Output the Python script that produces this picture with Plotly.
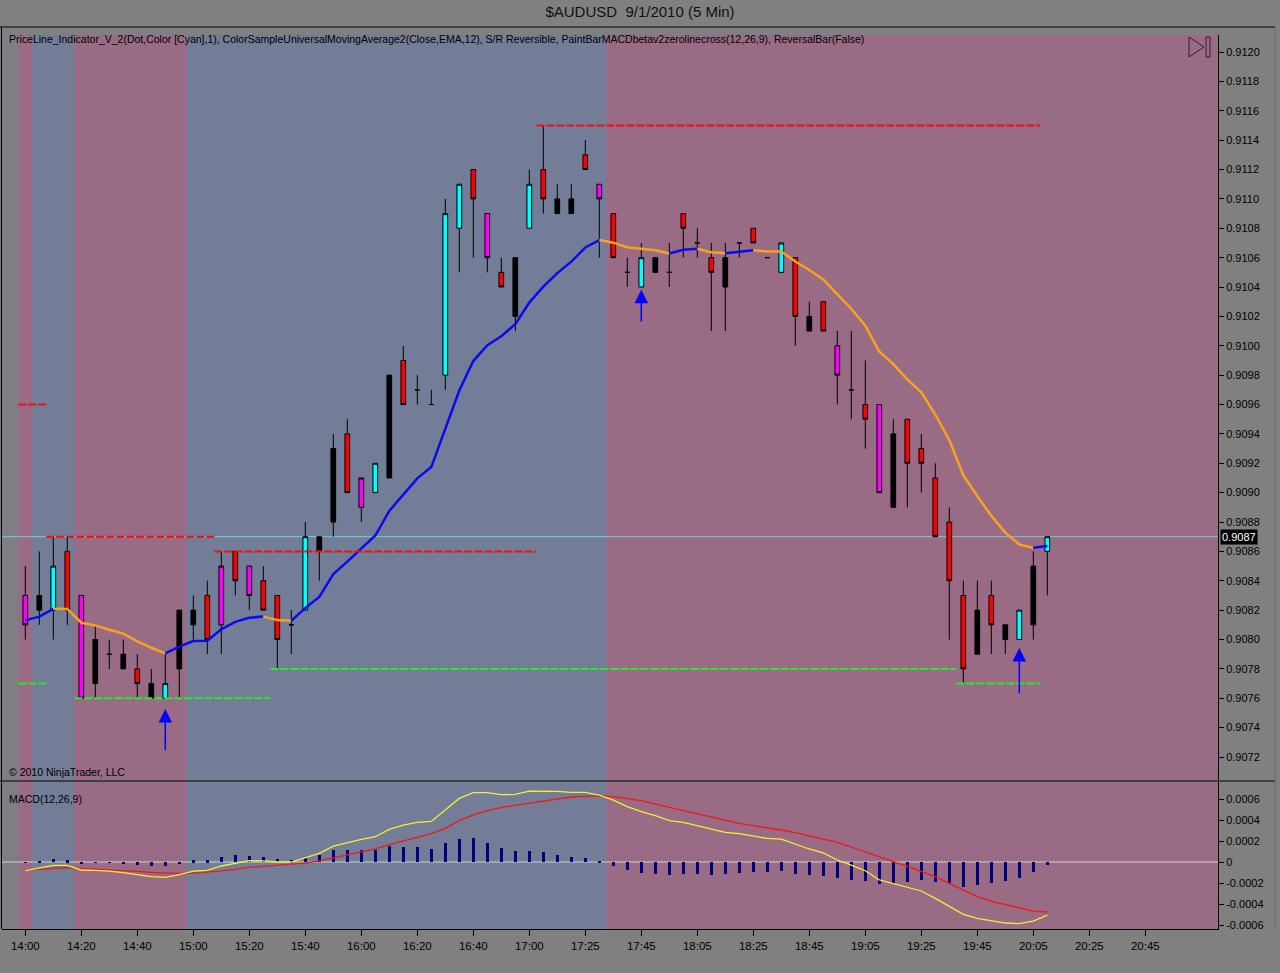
import plotly.graph_objects as go

# ---------------- texts ----------------
TITLE = "$AUDUSD  9/1/2010 (5 Min)"
INDICATORS = ("PriceLine_Indicator_V_2(Dot,Color [Cyan],1), ColorSampleUniversalMovingAverage2(Close,EMA,12), "
              "S/R Reversible, PaintBarMACDbetav2zerolinecross(12,26,9), ReversalBar(False)")
COPYRIGHT = "© 2010 NinjaTrader, LLC"
MACD_LABEL = "MACD(12,26,9)"

# ---------------- axis labels ----------------
TIME_TICKS = ["14:00", "14:20", "14:40", "15:00", "15:20", "15:40", "16:00", "16:20", "16:40", "17:00",
              "17:25", "17:45", "18:05", "18:25", "18:45", "19:05", "19:25", "19:45", "20:05", "20:25", "20:45"]
BARS_PER_TICK = 4
PRICE_TICKS = [0.9120, 0.9118, 0.9116, 0.9114, 0.9112, 0.9110, 0.9108, 0.9106, 0.9104, 0.9102, 0.9100,
               0.9098, 0.9096, 0.9094, 0.9092, 0.9090, 0.9088, 0.9086, 0.9084, 0.9082, 0.9080, 0.9078,
               0.9076, 0.9074, 0.9072]
MACD_TICKS = [0.0006, 0.0004, 0.0002, 0.0, -0.0002, -0.0004, -0.0006]
MACD_TICK_TEXT = ["0.0006", "0.0004", "0.0002", "0", "-0.0002", "-0.0004", "-0.0006"]

# ---------------- price bars (5 min) ----------------
OPEN = [0.9083, 0.9082, 0.9082, 0.9086, 0.9083, 0.9077, 0.9079, 0.9078, 0.9078, 0.9076,
        0.9076, 0.9078, 0.9081, 0.9083, 0.9081, 0.9086, 0.9085, 0.9084, 0.9083, 0.9081,
        0.9082, 0.9086, 0.9088, 0.9094, 0.9089, 0.9090, 0.9091, 0.9099, 0.9097, 0.9096,
        0.9098, 0.9108, 0.9112, 0.9109, 0.9105, 0.9102, 0.9108, 0.9112, 0.9109, 0.9109,
        0.9113, 0.9111, 0.9109, 0.9105, 0.9104, 0.9105, 0.9105, 0.9109, 0.9107, 0.9106,
        0.9104, 0.9107, 0.9108, 0.9106, 0.9105, 0.9106, 0.9101, 0.9103, 0.9100, 0.9097,
        0.9096, 0.9096, 0.9089, 0.9095, 0.9093, 0.9091, 0.9088, 0.9083, 0.9079, 0.9083,
        0.9080, 0.9080, 0.9081, 0.9086]
HIGH = [0.9085, 0.9086, 0.9087, 0.9087, 0.9083, 0.9081, 0.9080, 0.9080, 0.9079, 0.9078,
        0.9079, 0.9082, 0.9083, 0.9084, 0.9086, 0.9086, 0.9085, 0.9085, 0.9083, 0.9082,
        0.9088, 0.9087, 0.9094, 0.9095, 0.9091, 0.9092, 0.9098, 0.9100, 0.9098, 0.9097,
        0.9110, 0.9111, 0.9112, 0.9109, 0.9106, 0.9106, 0.9112, 0.9115, 0.9111, 0.9111,
        0.9114, 0.9111, 0.9109, 0.9106, 0.9107, 0.9106, 0.9107, 0.9109, 0.9108, 0.9107,
        0.9107, 0.9107, 0.9108, 0.9106, 0.9107, 0.9106, 0.9103, 0.9103, 0.9101, 0.9101,
        0.9099, 0.9096, 0.9095, 0.9095, 0.9094, 0.9092, 0.9089, 0.9084, 0.9084, 0.9084,
        0.9081, 0.9082, 0.9086, 0.9087]
LOW = [0.9080, 0.9081, 0.9080, 0.9081, 0.9076, 0.9076, 0.9078, 0.9078, 0.9076, 0.9076,
       0.9076, 0.9076, 0.9080, 0.9079, 0.9079, 0.9083, 0.9082, 0.9082, 0.9078, 0.9079,
       0.9082, 0.9084, 0.9087, 0.9090, 0.9088, 0.9090, 0.9091, 0.9096, 0.9096, 0.9096,
       0.9097, 0.9105, 0.9106, 0.9105, 0.9104, 0.9101, 0.9108, 0.9109, 0.9109, 0.9109,
       0.9112, 0.9106, 0.9106, 0.9104, 0.9104, 0.9105, 0.9104, 0.9106, 0.9106, 0.9101,
       0.9101, 0.9106, 0.9107, 0.9106, 0.9105, 0.9100, 0.9101, 0.9101, 0.9096, 0.9095,
       0.9093, 0.9090, 0.9089, 0.9089, 0.9090, 0.9087, 0.9080, 0.9077, 0.9079, 0.9079,
       0.9079, 0.9080, 0.9080, 0.9083]
CLOSE = [0.9081, 0.9083, 0.9085, 0.9082, 0.9076, 0.9080, 0.9079, 0.9079, 0.9077, 0.9077,
         0.9077, 0.9082, 0.9082, 0.9080, 0.9085, 0.9084, 0.9083, 0.9082, 0.9080, 0.9081,
         0.9087, 0.9087, 0.9093, 0.9090, 0.9091, 0.9092, 0.9098, 0.9096, 0.9097, 0.9096,
         0.9109, 0.9111, 0.9110, 0.9106, 0.9104, 0.9106, 0.9111, 0.9110, 0.9110, 0.9110,
         0.9112, 0.9110, 0.9106, 0.9105, 0.9106, 0.9106, 0.9105, 0.9108, 0.9107, 0.9105,
         0.9106, 0.9107, 0.9107, 0.9106, 0.9107, 0.9102, 0.9102, 0.9101, 0.9098, 0.9097,
         0.9095, 0.9090, 0.9094, 0.9092, 0.9092, 0.9087, 0.9084, 0.9078, 0.9082, 0.9081,
         0.9081, 0.9082, 0.9085, 0.9087]
# PaintBar state per bar: M=magenta, K=black, C=cyan, R=red
PAINT = ["M", "K", "C", "R", "M", "K", "K", "K", "R", "K",
         "C", "K", "K", "R", "M", "R", "M", "R", "R", "K",
         "C", "K", "K", "R", "M", "C", "K", "R", "K", "K",
         "C", "C", "R", "M", "R", "K", "C", "R", "K", "K",
         "R", "M", "R", "K", "C", "K", "K", "R", "K", "R",
         "K", "K", "R", "K", "C", "R", "K", "R", "M", "K",
         "R", "M", "K", "R", "R", "R", "R", "R", "K", "R",
         "K", "C", "K", "C"]

# EMA(12) of close as plotted
EMA12 = [0.908130, 0.908156, 0.908209, 0.908208, 0.908114, 0.908096, 0.908066, 0.908040, 0.907988, 0.907944,
         0.907906, 0.907951, 0.907989, 0.907991, 0.908069, 0.908120, 0.908148, 0.908156, 0.908132, 0.908127,
         0.908215, 0.908290, 0.908445, 0.908530, 0.908618, 0.908708, 0.908876, 0.908987, 0.909097, 0.909174,
         0.909440, 0.909695, 0.909896, 0.910004, 0.910065, 0.910147, 0.910294, 0.910403, 0.910495, 0.910573,
         0.910669, 0.910720, 0.910702, 0.910671, 0.910660, 0.910651, 0.910628, 0.910654, 0.910661, 0.910636,
         0.910630, 0.910641, 0.910650, 0.910642, 0.910642, 0.910574, 0.910516, 0.910452, 0.910352, 0.910252,
         0.910136, 0.909961, 0.909875, 0.909771, 0.909683, 0.909532, 0.909358, 0.909118, 0.908977, 0.908842,
         0.908728, 0.908647, 0.908624, 0.908636]

# S/R Reversible levels: first bar, last bar, level
RES_FIRST = [0, 2, 14, 37]
RES_LAST = [1, 13, 36, 72]
RES_LEVEL = [0.9096, 0.9087, 0.9086, 0.9115]
SUP_FIRST = [0, 4, 18, 67]
SUP_LAST = [1, 17, 66, 72]
SUP_LEVEL = [0.9077, 0.9076, 0.9078, 0.9077]

# Reversal arrows: bar, tip price, tail price
ARROW_BAR = [10, 44, 71]
ARROW_TIP = [0.907527, 0.910382, 0.907942]
ARROW_TAIL = [0.907236, 0.910155, 0.907624]

# MACD(12,26,9)
MACD = [-0.000083, -0.000060, -0.000032, -0.000032, -0.000076, -0.000079, -0.000086, -0.000102, -0.000121, -0.000140,
        -0.000146, -0.000121, -0.000086, -0.000079, -0.000038, -0.000010, 0.000013, 0.000010, 0.000000, 0.000000,
        0.000044, 0.000083, 0.000152, 0.000187, 0.000216, 0.000241, 0.000311, 0.000352, 0.000378, 0.000387,
        0.000495, 0.000606, 0.000660, 0.000660, 0.000641, 0.000644, 0.000676, 0.000676, 0.000673, 0.000663,
        0.000663, 0.000638, 0.000590, 0.000527, 0.000479, 0.000441, 0.000394, 0.000378, 0.000346, 0.000311,
        0.000283, 0.000270, 0.000251, 0.000225, 0.000219, 0.000171, 0.000124, 0.000086, 0.000019, -0.000029,
        -0.000083, -0.000171, -0.000206, -0.000241, -0.000276, -0.000346, -0.000419, -0.000498, -0.000537, -0.000562,
        -0.000581, -0.000587, -0.000562, -0.000505]
SIGNAL = [-0.000076, -0.000067, -0.000060, -0.000054, -0.000060, -0.000066, -0.000071, -0.000080, -0.000089, -0.000098,
          -0.000106, -0.000109, -0.000105, -0.000098, -0.000084, -0.000070, -0.000051, -0.000041, -0.000032, -0.000022,
          -0.000010, 0.000010, 0.000038, 0.000070, 0.000095, 0.000124, 0.000165, 0.000200, 0.000235, 0.000270,
          0.000321, 0.000394, 0.000448, 0.000489, 0.000521, 0.000540, 0.000559, 0.000584, 0.000603, 0.000619,
          0.000625, 0.000629, 0.000622, 0.000606, 0.000584, 0.000552, 0.000521, 0.000489, 0.000457, 0.000429,
          0.000397, 0.000368, 0.000346, 0.000327, 0.000305, 0.000279, 0.000248, 0.000222, 0.000187, 0.000143,
          0.000095, 0.000044, 0.000003, -0.000041, -0.000089, -0.000140, -0.000203, -0.000267, -0.000330, -0.000375,
          -0.000406, -0.000438, -0.000467, -0.000476]
HIST = [-0.000007, 0.000007, 0.000029, 0.000019, -0.000013, -0.000006, -0.000006, -0.000013, -0.000030, -0.000038,
        -0.000038, -0.000010, 0.000019, 0.000019, 0.000048, 0.000067, 0.000057, 0.000048, 0.000025, 0.000019,
        0.000038, 0.000067, 0.000114, 0.000114, 0.000114, 0.000114, 0.000152, 0.000140, 0.000140, 0.000124,
        0.000181, 0.000219, 0.000229, 0.000184, 0.000133, 0.000108, 0.000108, 0.000092, 0.000070, 0.000048,
        0.000038, 0.000013, -0.000038, -0.000076, -0.000102, -0.000117, -0.000124, -0.000117, -0.000117, -0.000127,
        -0.000117, -0.000102, -0.000092, -0.000095, -0.000083, -0.000114, -0.000124, -0.000133, -0.000152, -0.000168,
        -0.000178, -0.000210, -0.000200, -0.000187, -0.000168, -0.000187, -0.000197, -0.000235, -0.000219, -0.000200,
        -0.000178, -0.000152, -0.000095, -0.000029]

# ---------------- styles ----------------
FONT = "Liberation Sans, Arial, sans-serif"
PAINT_COLORS = {"M": "#ff00ff", "K": "#000000", "C": "#00ffff", "R": "#ff0000"}
BAND_POS = "#737d97"
BAND_NEG = "#9a6b85"
PAPER = "#808080"
EMA_UP = "#0a0af0"
EMA_DOWN = "#f7a21c"
W, H = 1280, 973
ML, MR, MT, MB = 2, 62, 35, 44
PLOT_W = W - ML - MR
PLOT_H = H - MT - MB
PRICE_DOMAIN = [(929 - 780) / PLOT_H, 1.0]
MACD_DOMAIN = [0.0, (929 - 782) / PLOT_H]
BAR_PX = 14.0
FIRST_BAR_PX = 25.3
X_RANGE = [(ML - FIRST_BAR_PX) / BAR_PX, (W - MR - FIRST_BAR_PX) / BAR_PX]
PRICE_RANGE = [0.9070434, 0.912116]
MACD_RANGE = [-0.000638, 0.000762]

n = len(CLOSE)
xs = list(range(n))

fig = go.Figure()

# candles, one trace per paint colour
for code, col in PAINT_COLORS.items():
    idx = [i for i in xs if PAINT[i] == code]
    style = dict(fillcolor=col, line=dict(color="#000000", width=1))
    fig.add_trace(go.Candlestick(
        x=idx, open=[OPEN[i] for i in idx], high=[HIGH[i] for i in idx],
        low=[LOW[i] for i in idx], close=[CLOSE[i] for i in idx],
        increasing=style, decreasing=style, whiskerwidth=0,
        xaxis="x", yaxis="y", showlegend=False, hoverinfo="skip"))

# EMA coloured by slope (rising = blue, otherwise orange)
seg_col = [EMA_UP if EMA12[i] > EMA12[i - 1] else EMA_DOWN for i in range(1, n)]
start = 0
for i in range(1, n):
    if i == n - 1 or seg_col[i] != seg_col[i - 1]:
        end = i
        fig.add_trace(go.Scatter(x=xs[start:end + 1], y=EMA12[start:end + 1], mode="lines",
                                 line=dict(color=seg_col[i - 1], width=2.5),
                                 xaxis="x", yaxis="y", showlegend=False, hoverinfo="skip"))
        start = end

# S/R segments
for first, last, lvl in zip(RES_FIRST, RES_LAST, RES_LEVEL):
    fig.add_trace(go.Scatter(x=[first - 0.5, last + 0.5], y=[lvl, lvl], mode="lines",
                             line=dict(color="#ee1111", width=2, dash="8px,2px"),
                             xaxis="x", yaxis="y", showlegend=False, hoverinfo="skip"))
for first, last, lvl in zip(SUP_FIRST, SUP_LAST, SUP_LEVEL):
    fig.add_trace(go.Scatter(x=[first - 0.5, last + 0.5], y=[lvl, lvl], mode="lines",
                             line=dict(color="#22ee22", width=2, dash="8px,2px"),
                             xaxis="x", yaxis="y", showlegend=False, hoverinfo="skip"))

# MACD panel
fig.add_trace(go.Bar(x=xs, y=HIST, width=0.25, marker=dict(color="#00007f", line=dict(width=0)),
                     xaxis="x2", yaxis="y2", showlegend=False, hoverinfo="skip"))
fig.add_trace(go.Scatter(x=xs, y=SIGNAL, mode="lines", line=dict(color="#f01818", width=1.3),
                         xaxis="x2", yaxis="y2", showlegend=False, hoverinfo="skip"))
fig.add_trace(go.Scatter(x=xs, y=MACD, mode="lines", line=dict(color="#f0f030", width=1.3),
                         xaxis="x2", yaxis="y2", showlegend=False, hoverinfo="skip"))

# ---------------- background bands from histogram sign ----------------
shapes = []
runs = []
s = 0
for i in range(1, n + 1):
    if i == n or (HIST[i] > 0) != (HIST[s] > 0):
        runs.append((s, i - 1, HIST[s] > 0))
        s = i
for k, (a, b, pos) in enumerate(runs):
    x1 = X_RANGE[1] if k == len(runs) - 1 else b + 0.5
    col = BAND_POS if pos else BAND_NEG
    for xr, yr in (("x", "y domain"), ("x2", "y2 domain")):
        shapes.append(dict(type="rect", xref=xr, yref=yr, x0=a - 0.5, x1=x1, y0=0, y1=1,
                           fillcolor=col, line=dict(width=0), layer="below"))

# price line at last close (under the bars)
shapes.append(dict(type="line", xref="x domain", yref="y", x0=0, x1=1, y0=CLOSE[-1], y1=CLOSE[-1],
                   line=dict(color="#6fd0d6", width=1), layer="below"))
# MACD zero line
shapes.append(dict(type="line", xref="x2 domain", yref="y2", x0=0, x1=1, y0=0, y1=0,
                   line=dict(color="#d0d0d0", width=1), layer="below"))


def px(xp):
    return (xp - ML) / PLOT_W


def py(yp):
    return (H - MB - yp) / PLOT_H


# frame lines
shapes.append(dict(type="line", xref="paper", yref="paper", x0=px(0), x1=px(1275), y0=py(27), y1=py(27),
                   line=dict(color="#000000", width=1)))
shapes.append(dict(type="line", xref="paper", yref="paper", x0=px(0), x1=px(1275), y0=py(781), y1=py(781),
                   line=dict(color="#000000", width=1)))
shapes.append(dict(type="line", xref="paper", yref="paper", x0=px(1.5), x1=px(1.5), y0=py(929), y1=py(27),
                   line=dict(color="#000000", width=1)))
shapes.append(dict(type="line", xref="paper", yref="paper", x0=px(1275), x1=px(1275), y0=py(929), y1=py(27),
                   line=dict(color="#6a6a6a", width=1)))
# "go to last bar" icon
shapes.append(dict(type="path", xref="paper", yref="paper",
                   path=f"M {px(1189)},{py(37)} L {px(1189)},{py(57)} L {px(1204)},{py(47)} Z",
                   line=dict(color="#3a1a2c", width=1)))
shapes.append(dict(type="rect", xref="paper", yref="paper", x0=px(1206), x1=px(1210), y0=py(57), y1=py(37),
                   line=dict(color="#3a1a2c", width=1)))

# ---------------- annotations ----------------
annotations = [
    dict(text=INDICATORS, xref="paper", yref="paper", x=0, y=1, xanchor="left", yanchor="middle",
         xshift=5, yshift=-4, showarrow=False, font=dict(family=FONT, size=10.5, color="#000000")),
    dict(text=COPYRIGHT, xref="paper", yref="y domain", x=0, y=0, xanchor="left", yanchor="middle",
         xshift=5, yshift=8, showarrow=False, font=dict(family=FONT, size=10.5, color="#000000")),
    dict(text=MACD_LABEL, xref="paper", yref="y2 domain", x=0, y=1, xanchor="left", yanchor="middle",
         xshift=5, yshift=-17, showarrow=False, font=dict(family=FONT, size=10.5, color="#000000")),
    dict(text=f"{CLOSE[-1]:.4f}", xref="paper", yref="y", x=1, y=CLOSE[-1], xanchor="left", yanchor="middle",
         xshift=2, showarrow=False, bgcolor="#000000", borderpad=1,
         font=dict(family=FONT, size=11, color="#ffffff")),
]
for b, tip, tail in zip(ARROW_BAR, ARROW_TIP, ARROW_TAIL):
    annotations.append(dict(x=b, y=tip, ax=b, ay=tail, xref="x", yref="y", axref="x", ayref="y",
                            text="", showarrow=True, arrowhead=2, arrowsize=1.8, arrowwidth=1.5,
                            arrowcolor="#0000ff", standoff=0, startstandoff=0))

tickvals = [k * BARS_PER_TICK for k in range(len(TIME_TICKS))]

fig.update_layout(
    width=W, height=H,
    margin=dict(l=ML, r=MR, t=MT, b=MB, pad=0),
    paper_bgcolor=PAPER, plot_bgcolor="#7e7e84",
    title=dict(text=TITLE, x=0.5, xanchor="center", y=1 - 12 / H, yanchor="middle",
               font=dict(family=FONT, size=15, color="#111111")),
    font=dict(family=FONT, size=11, color="#000000"),
    showlegend=False, boxgap=0.52, bargap=0,
    xaxis=dict(domain=[0, 1], anchor="y", range=X_RANGE, showticklabels=False, ticks="",
               showgrid=False, zeroline=False, showline=False, rangeslider=dict(visible=False),
               fixedrange=True),
    xaxis2=dict(domain=[0, 1], anchor="y2", range=X_RANGE, matches="x", tickmode="array",
                tickvals=tickvals, ticktext=TIME_TICKS, ticks="outside", ticklen=6, tickcolor="#000000",
                showline=True, linecolor="#000000", linewidth=1, showgrid=False, zeroline=False,
                tickfont=dict(family=FONT, size=11.5, color="#000000")),
    yaxis=dict(domain=PRICE_DOMAIN, anchor="x", side="right", range=PRICE_RANGE, tickmode="array",
               tickvals=PRICE_TICKS, tickformat=".4f", ticks="outside", ticklen=5, tickcolor="#000000",
               showline=True, linecolor="#000000", showgrid=False, zeroline=False,
               tickfont=dict(family=FONT, size=11, color="#000000")),
    yaxis2=dict(domain=MACD_DOMAIN, anchor="x2", side="right", range=MACD_RANGE, tickmode="array",
                tickvals=MACD_TICKS, ticktext=MACD_TICK_TEXT, ticks="outside", ticklen=5,
                tickcolor="#000000", showline=True, linecolor="#000000", showgrid=False, zeroline=False,
                tickfont=dict(family=FONT, size=11, color="#000000")),
    shapes=shapes, annotations=annotations,
)

fig.write_html("out.html", config={"displayModeBar": False},
               post_script="document.body.style.margin='0px';document.body.style.overflow='hidden';")
